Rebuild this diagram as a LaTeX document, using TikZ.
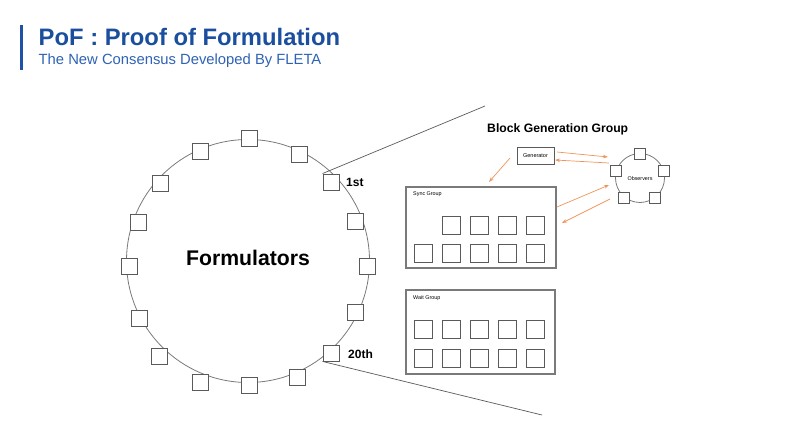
\documentclass[tikz,border=0pt]{standalone}
\usepackage{fontspec}
\setmainfont{Liberation Sans}
\usetikzlibrary{arrows.meta}
\definecolor{tblue}{HTML}{1A4E9E}
\definecolor{sblue}{HTML}{2E62B4}
\definecolor{barblue}{HTML}{1D52A6}
\definecolor{ringgray}{HTML}{7A7A7A}
\definecolor{sqgray}{HTML}{5A5A5A}
\definecolor{arrorange}{HTML}{F0955A}
\tikzset{
  fsq/.style={draw=sqgray, line width=0.9pt, fill=white, minimum size=16pt, inner sep=0pt},
  osq/.style={draw=sqgray, line width=0.8pt, fill=white, minimum size=11pt, inner sep=0pt},
  gsq/.style={draw=sqgray, line width=0.9pt, fill=white, minimum size=18pt, inner sep=0pt},
  groupbox/.style={draw=ringgray, line width=1.1pt},
  ring/.style={draw=ringgray, line width=0.8pt},
  zoomline/.style={draw=sqgray, line width=0.7pt},
  oarrow/.style={draw=arrorange, line width=0.7pt, -{Stealth[length=5pt,width=3.5pt]}},
  tiny/.style={font=\fontsize{5.4}{6}\selectfont, inner sep=0pt},
  ordlabel/.style={font=\bfseries\fontsize{12}{14}\selectfont, inner sep=0pt, anchor=west}
}
\begin{document}
\begin{tikzpicture}[x=1pt,y=-1pt]
\useasboundingbox (0,0) rectangle (800,430);
% header
\fill[barblue] (19.5,25) rectangle (23,70);
\node[anchor=base west, inner sep=0pt, text=tblue, font=\bfseries\fontsize{23.8}{28}\selectfont] (title) at (38.5,45.5) {PoF : Proof of Formulation};
\node[anchor=base west, inner sep=0pt, text=sblue, font=\fontsize{14.8}{17}\selectfont] (subtitle) at (38.5,65) {The New Consensus Developed By FLETA};

% formulators ring
\coordinate (C) at (248,261);
\draw[ring] (C) circle (121.5pt);
\node[font=\bfseries\fontsize{21.2}{24}\selectfont, inner sep=0pt] (formulators) at (248,258) {Formulators};
\node[fsq] (f0) at (249,138) {};
\node[fsq] (f1) at (299,154) {};
\node[fsq] (f2) at (331,182) {};
\node[fsq] (f3) at (355,221) {};
\node[fsq] (f4) at (367,266) {};
\node[fsq] (f5) at (355,312) {};
\node[fsq] (f6) at (331,353) {};
\node[fsq] (f7) at (297,377) {};
\node[fsq] (f8) at (249,385) {};
\node[fsq] (f9) at (200,382) {};
\node[fsq] (f10) at (159,356) {};
\node[fsq] (f11) at (139,318) {};
\node[fsq] (f12) at (129,266) {};
\node[fsq] (f13) at (138,222) {};
\node[fsq] (f14) at (160,183) {};
\node[fsq] (f15) at (200,151) {};
\node[ordlabel] (first) at (346,182) {1st};
\node[ordlabel] (twentieth) at (348,354) {20th};

% zoom lines
\coordinate (ztop) at (485,106);
\coordinate (zbot) at (542,415);
\draw[zoomline] (f2.north west) -- (ztop);
\draw[zoomline] (f6.south west) -- (zbot);

% block generation group
\node[anchor=west, inner sep=0pt, font=\bfseries\fontsize{12.2}{14}\selectfont] (bgg) at (487,129) {Block Generation Group};
\node[draw=sqgray, line width=0.9pt, minimum width=37pt, minimum height=17pt, inner sep=0pt, font=\fontsize{5.5}{6}\selectfont] (gen) at (535.5,155.5) {Generator};

% observers
\coordinate (O) at (640,178);
\draw[ring] (O) circle (24.5pt);
\node[tiny] (obs) at (640,179) {Observers};
\node[osq] (o1) at (640,154) {};
\node[osq] (o2) at (664,171) {};
\node[osq] (o3) at (655,198) {};
\node[osq] (o4) at (624,198) {};
\node[osq] (o5) at (616,171) {};

% sync group
\node[groupbox, minimum width=150pt, minimum height=81pt, inner sep=0pt] (sync) at (481,227.5) {};
\node[tiny, anchor=west] (synclabel) at (413,194) {Sync Group};
\foreach \x [count=\k] in {451,479,507,535} {
  \node[gsq] (sa\k) at (\x,225.5) {};
}
\foreach \x [count=\k] in {423,451,479,507,535} {
  \node[gsq] (sb\k) at (\x,253.5) {};
}

% wait group
\node[groupbox, minimum width=149pt, minimum height=84pt, inner sep=0pt] (wait) at (480.5,332) {};
\node[tiny, anchor=west] (waitlabel) at (413,298) {Wait Group};
\foreach \x [count=\k] in {423,451,479,507,535} {
  \node[gsq] (wa\k) at (\x,329.5) {};
  \node[gsq] (wb\k) at (\x,358) {};
}

% orange arrows
\coordinate (a1s) at (557,152);
\coordinate (a1e) at (608,157);
\coordinate (a2s) at (609,163);
\coordinate (a2e) at (555,160);
\coordinate (a3s) at (510,158);
\coordinate (a3e) at (489,182);
\coordinate (a4s) at (557,207);
\coordinate (a4e) at (609,185);
\coordinate (a5s) at (610,199);
\coordinate (a5e) at (562,223);
\draw[oarrow] (a1s) -- (a1e);
\draw[oarrow] (a2s) -- (a2e);
\draw[oarrow] (a3s) -- (a3e);
\draw[oarrow] (a4s) -- (a4e);
\draw[oarrow] (a5s) -- (a5e);
\end{tikzpicture}
\end{document}
